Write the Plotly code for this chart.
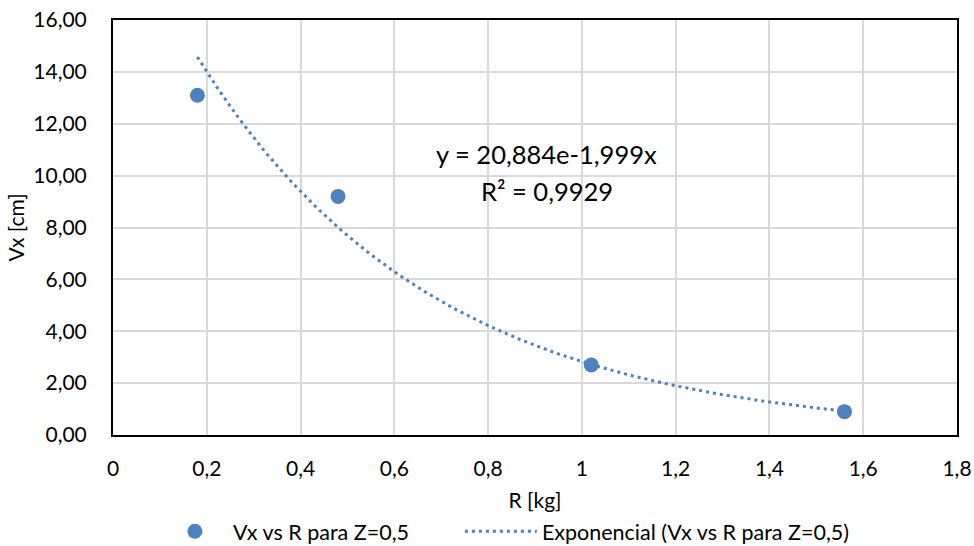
import numpy as np
import plotly.graph_objects as go

# Measured data
R_kg = [0.18, 0.48, 1.02, 1.56]
Vx_cm = [13.1, 9.2, 2.7, 0.9]

# Exponential fit y = a * exp(b * x)
fit_a = 20.884
fit_b = -1.999
fit_r2 = 0.9929

x_ticks = [0, 0.2, 0.4, 0.6, 0.8, 1.0, 1.2, 1.4, 1.6, 1.8]
y_ticks = [0, 2, 4, 6, 8, 10, 12, 14, 16]

BLUE = "#4f81bd"
FONT = "Lato, 'Open Sans', sans-serif"

x_fit = np.linspace(min(R_kg), max(R_kg), 200)
y_fit = fit_a * np.exp(fit_b * x_fit)

fig = go.Figure()
fig.add_trace(go.Scatter(
    x=R_kg, y=Vx_cm, mode="markers",
    marker=dict(size=15, color=BLUE),
    name="Vx vs R para Z=0,5",
    legend="legend",
))
fig.add_trace(go.Scatter(
    x=x_fit, y=y_fit, mode="lines",
    line=dict(color=BLUE, width=3, dash="3px,4px"),
    name="Exponencial (Vx vs R para Z=0,5)",
    legend="legend2",
))

# Trendline equation label, one annotation per line
eq_lines = [
    (f"y = {fit_a:.3f}e{fit_b:.3f}x".replace(".", ","), 10.85),
    (f"R² = {fit_r2:.4f}".replace(".", ","), 9.42),
]
for txt, yv in eq_lines:
    fig.add_annotation(
        x=0.925, y=yv, xref="x", yref="y", text=txt,
        showarrow=False, align="center",
        font=dict(family=FONT, size=25.5, color="#000000"),
    )

legend_common = dict(orientation="h", xanchor="left", y=-0.232, yanchor="middle",
                     font=dict(size=21.5), bgcolor="rgba(0,0,0,0)")

fig.update_layout(
    width=974, height=546,
    margin=dict(l=113, r=17, t=20, b=111, autoexpand=False),
    paper_bgcolor="white", plot_bgcolor="white",
    separators=",.",
    font=dict(family=FONT, size=21, color="#000000"),
    showlegend=True,
    legend=dict(x=0.052, itemwidth=66, **legend_common),
    legend2=dict(x=0.411, itemwidth=72, **legend_common),
)
fig.update_xaxes(
    range=[0, 1.8], tickvals=x_ticks, tickformat="~g",
    showgrid=True, gridcolor="#d9d9d9", gridwidth=1.5,
    showline=True, linecolor="black", linewidth=2, mirror=True,
    zeroline=False, ticks="", ticklabelstandoff=14,
    title=dict(text="R [kg]", standoff=14, font=dict(size=21)),
)
fig.update_yaxes(
    range=[0, 16], tickvals=y_ticks, tickformat=".2f",
    showgrid=True, gridcolor="#d9d9d9", gridwidth=1.5,
    showline=True, linecolor="black", linewidth=2, mirror=True,
    zeroline=False, ticks="", ticklabelstandoff=20,
    title=dict(text="Vx [cm]", standoff=3, font=dict(size=21)),
)

fig.write_html("out.html")
